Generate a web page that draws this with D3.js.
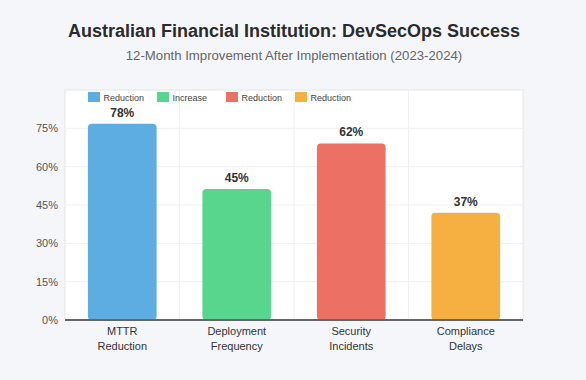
<!DOCTYPE html>
<html>
<head>
<meta charset="utf-8">
<script src="https://cdn.jsdelivr.net/npm/d3@7"></script>
<style>
  body { margin: 0; background: #f5f6fa; font-family: "Liberation Sans", Arial, sans-serif; }
  svg { display: block; }
</style>
</head>
<body>
<script>
// chart data
var categories = [["MTTR", "Reduction"], ["Deployment", "Frequency"], ["Security", "Incidents"], ["Compliance", "Delays"]];
var labelValues = [78, 45, 62, 37];        // numbers printed above the bars
var barValues = [76.8, 51.3, 69.1, 42.0];  // heights the bars are drawn at in the picture
var legendLabels = ["Reduction", "Increase", "Reduction", "Reduction"];
var colors = ["#5dade2", "#58d68d", "#ec7063", "#f5b041"];
var yTicks = [0, 15, 30, 45, 60, 75];

var svg_width = 586, svg_height = 380;
var margin = {top: 90, right: 63, bottom: 60, left: 65},
    width = svg_width - margin.left - margin.right,
    height = svg_height - margin.top - margin.bottom;

var svg = d3.select("body").append("svg")
    .attr("width", svg_width)
    .attr("height", svg_height);

// titles
svg.append("text")
    .attr("x", 294).attr("y", 37)
    .attr("text-anchor", "middle")
    .style("font-size", "18px").style("font-weight", "bold").style("fill", "#2b2b2b")
    .text("Australian Financial Institution: DevSecOps Success");
svg.append("text")
    .attr("x", 294).attr("y", 60)
    .attr("text-anchor", "middle")
    .style("font-size", "13.2px").style("fill", "#666")
    .text("12-Month Improvement After Implementation (2023-2024)");

var g = svg.append("g").attr("transform", "translate(" + margin.left + "," + margin.top + ")");

var x = d3.scaleBand()
    .domain(d3.range(categories.length))
    .range([0, width])
    .paddingInner(0.4).paddingOuter(0.2);
var xb = d3.scaleBand()   // full category slots, for the vertical grid
    .domain(d3.range(categories.length))
    .range([0, width]);
var y = d3.scaleLinear().domain([0, 90]).range([height, 0]);

// plot background + frame
g.append("rect")
    .attr("width", width).attr("height", height)
    .attr("fill", "#fff").attr("stroke", "#e6e6e6");

// horizontal grid
g.selectAll(".hgrid").data(yTicks.slice(1))
  .enter().append("line")
    .attr("x1", 0).attr("x2", width)
    .attr("y1", function(d) { return y(d); }).attr("y2", function(d) { return y(d); })
    .attr("stroke", "#f0f0f0");

// vertical grid between categories
g.selectAll(".vgrid").data(d3.range(1, categories.length))
  .enter().append("line")
    .attr("x1", function(d) { return xb(d); }).attr("x2", function(d) { return xb(d); })
    .attr("y1", 0).attr("y2", height)
    .attr("stroke", "#f0f0f0");

// y axis labels
var yAxis = g.append("g")
    .call(d3.axisLeft(y).tickValues(yTicks).tickSize(0).tickPadding(7)
            .tickFormat(function(d) { return d + "%"; }));
yAxis.select(".domain").remove();
yAxis.selectAll("text").style("font-size", "11px").style("fill", "#555")
    .style("font-family", "Liberation Sans, Arial, sans-serif");

// bars
g.selectAll(".bar").data(barValues)
  .enter().append("rect")
    .attr("x", function(d, i) { return x(i); })
    .attr("y", function(d) { return y(d); })
    .attr("width", x.bandwidth())
    .attr("height", function(d) { return height - y(d); })
    .attr("rx", 4).attr("ry", 4)
    .attr("fill", function(d, i) { return colors[i]; });

// value labels
g.selectAll(".val").data(barValues)
  .enter().append("text")
    .attr("x", function(d, i) { return x(i) + x.bandwidth() / 2; })
    .attr("y", function(d) { return y(d) - 7; })
    .attr("text-anchor", "middle")
    .style("font-size", "12px").style("font-weight", "bold").style("fill", "#333")
    .text(function(d, i) { return labelValues[i] + "%"; });

// x axis line
g.append("line")
    .attr("x1", 0).attr("x2", width)
    .attr("y1", height).attr("y2", height)
    .attr("stroke", "#666").attr("stroke-width", 2);

// x labels, two lines each
var xl = g.selectAll(".xl").data(categories)
  .enter().append("text")
    .attr("text-anchor", "middle")
    .attr("transform", function(d, i) { return "translate(" + (x(i) + x.bandwidth() / 2) + "," + (height + 15) + ")"; })
    .style("font-size", "11px").style("fill", "#333");
xl.selectAll("tspan").data(function(d) { return d; })
  .enter().append("tspan")
    .attr("x", 0)
    .attr("dy", function(d, j) { return j ? 14.7 : 0; })
    .text(function(d) { return d; });

// legend
var lx = d3.scalePoint().domain(d3.range(legendLabels.length)).range([88, 295]);
var leg = svg.selectAll(".leg").data(legendLabels)
  .enter().append("g")
    .attr("transform", function(d, i) { return "translate(" + lx(i) + ",92)"; });
leg.append("rect")
    .attr("width", 12).attr("height", 10)
    .attr("fill", function(d, i) { return colors[i]; });
leg.append("text")
    .attr("x", 15.5).attr("y", 8.5)
    .style("font-size", "9px").style("fill", "#444")
    .text(function(d) { return d; });
</script>
</body>
</html>
